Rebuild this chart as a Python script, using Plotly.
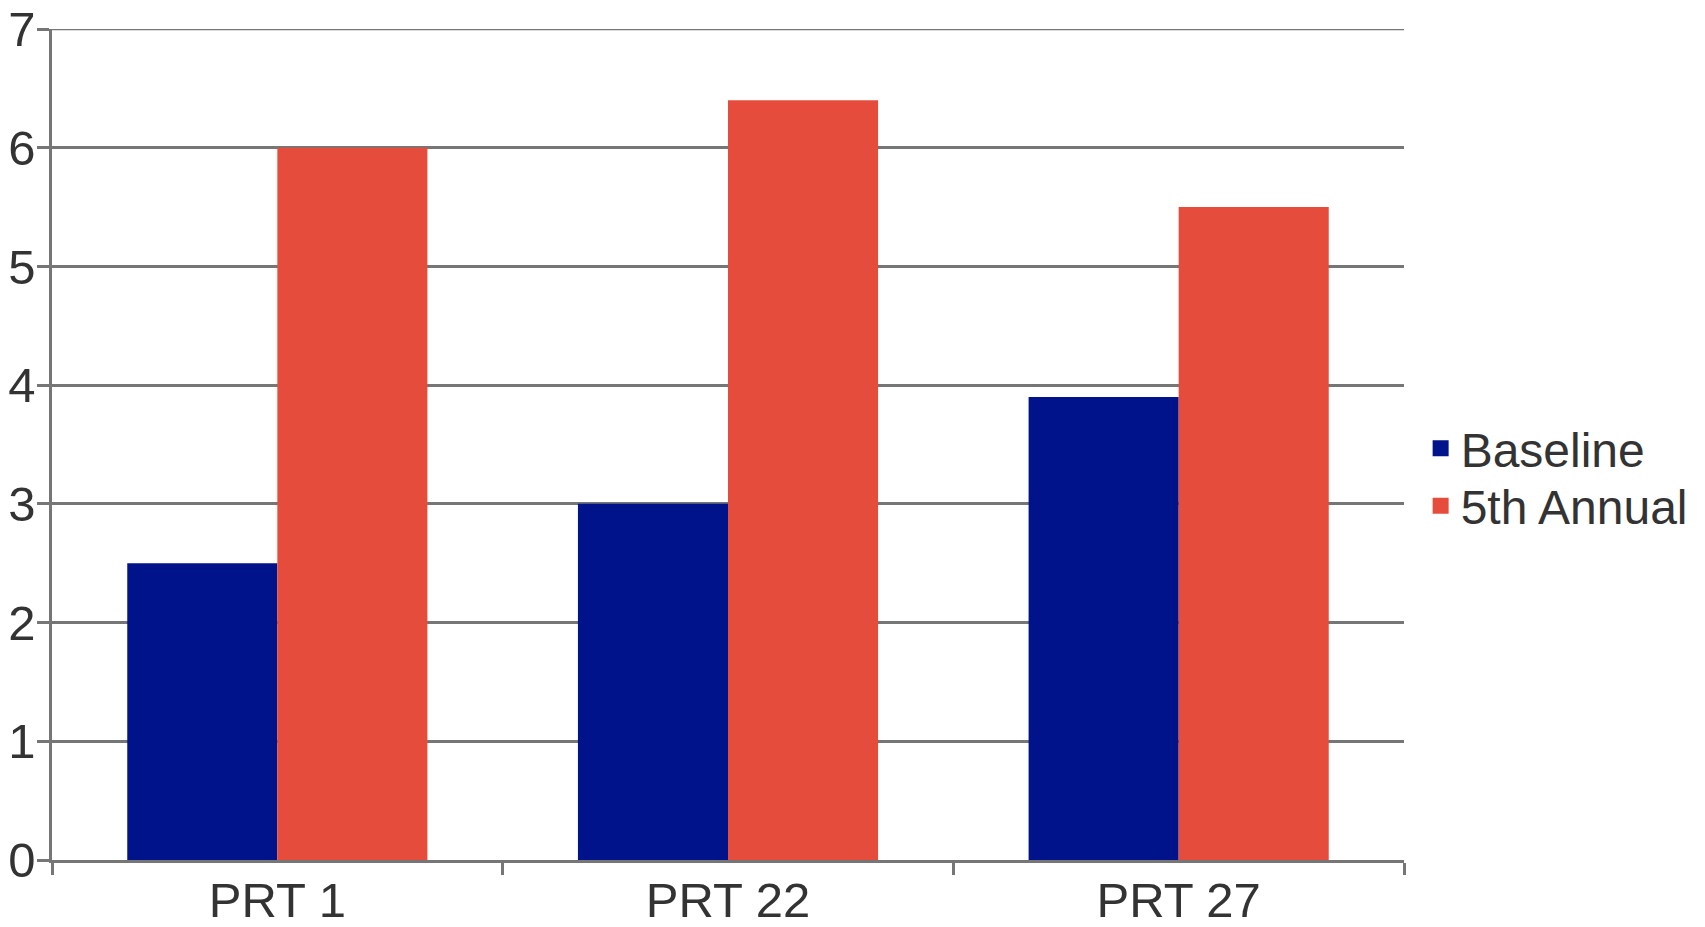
import plotly.graph_objects as go

categories = ["PRT 1", "PRT 22", "PRT 27"]
baseline = [2.5, 3.0, 3.9]
annual5 = [6.0, 6.4, 5.5]
series_names = ["Baseline", "5th Annual"]
colors = ["#00138A", "#E64C3C"]
y_ticks = [0, 1, 2, 3, 4, 5, 6, 7]

fig = go.Figure()
legend_ids = ["legend", "legend2"]
for name, vals, col, lg in zip(series_names, [baseline, annual5], colors, legend_ids):
    fig.add_trace(go.Bar(x=categories, y=vals, name=name, marker_color=col,
                         marker_line_width=0, showlegend=False))
    fig.add_trace(go.Scatter(x=[None], y=[None], mode="markers", name=name, legend=lg,
                             marker=dict(symbol="square", size=18, color=col)))

grid_col = "#767676"
# top gridline (plotly drops the gridline lying on the plot edge)
fig.add_shape(type="line", xref="paper", yref="y", x0=0, x1=1, y0=y_ticks[-1], y1=y_ticks[-1],
              line=dict(color=grid_col, width=2.5), layer="below")

font = dict(family="Liberation Sans, Arial, sans-serif", size=49, color="#333333")
leg_common = dict(x=1.0123, xanchor="left", yanchor="middle",
                  font=dict(size=48, color="#333333"), itemwidth=30,
                  bgcolor="rgba(0,0,0,0)")
fig.update_layout(
    width=1705, height=927,
    margin=dict(l=52, r=298, t=29, b=67),
    paper_bgcolor="white", plot_bgcolor="white",
    barmode="group", bargap=0.334, bargroupgap=0,
    font=font,
    legend=dict(y=0.495, **leg_common),
    legend2=dict(y=0.426, **leg_common),
    showlegend=True,
)
fig.update_xaxes(type="category", showgrid=False, showline=True, linecolor=grid_col,
                 linewidth=2.5, ticks="outside", tickson="boundaries", ticklen=12,
                 tickcolor=grid_col, tickwidth=2.5, zeroline=False, automargin=False,
                 ticklabelstandoff=-5, ticklabeloverflow="allow")
fig.update_yaxes(range=[0, 7], tickvals=y_ticks, showgrid=True, gridcolor=grid_col,
                 gridwidth=2.5, showline=True, linecolor=grid_col, linewidth=2.5,
                 ticks="outside", ticklen=12, tickcolor=grid_col, tickwidth=2.5,
                 zeroline=False, ticklabelstandoff=-8, automargin=False,
                 ticklabeloverflow="allow")

# remove the page's default 8px body margin so the figure fills the window
fig.write_html("out.html", config={"displayModeBar": False},
               post_script="document.body.style.margin='0';document.body.style.overflow='hidden';")
